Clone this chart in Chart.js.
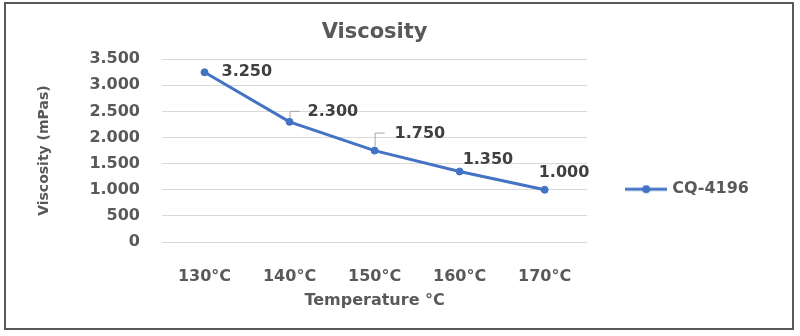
<!DOCTYPE html>
<html>
<head>
<meta charset="utf-8">
<script src="https://cdn.jsdelivr.net/npm/chart.js@4/dist/chart.umd.min.js"></script>
<style>
  body { margin: 0; background: #fff; }
  #wrap { position: relative; width: 800px; height: 336px; }
  #frame { position: absolute; left: 4px; top: 2px; width: 786px; height: 324px; border: 2px solid #595959; }
  #myChart { position: absolute; left: 0; top: 0; }
</style>
</head>
<body>
<div id="wrap">
  <div id="frame"></div>
  <canvas id="myChart" width="800" height="336"></canvas>
</div>
<script>
// dati del grafico
var temperatures = ["130°C", "140°C", "150°C", "160°C", "170°C"];
var viscosity = [3250, 2300, 1750, 1350, 1000];
var seriesName = "CQ-4196";
var yTicks = [0, 500, 1000, 1500, 2000, 2500, 3000, 3500];

var blue = "#4472C4";
var grey = "#595959";
var font = "'DejaVu Sans', sans-serif";

// numero con il punto come separatore delle migliaia
function fmt(v) {
  return String(v).replace(/\B(?=(\d{3})+(?!\d))/g, ".");
}

// simbolo della legenda: linea con punto
function legendSymbol() {
  var c = document.createElement("canvas");
  c.width = 42;
  c.height = 12;
  var g = c.getContext("2d");
  g.strokeStyle = blue;
  g.lineWidth = 3;
  g.beginPath();
  g.moveTo(0, 6);
  g.lineTo(42, 6);
  g.stroke();
  g.fillStyle = blue;
  g.beginPath();
  g.arc(21, 6, 4, 0, Math.PI * 2);
  g.fill();
  return c;
}

// etichette dei valori vicino ai punti
var labelPlugin = {
  id: "valueLabels",
  afterDatasetsDraw: function(chart, args, opts) {
    var ctx = chart.ctx;
    var meta = chart.getDatasetMeta(0);
    var data = chart.data.datasets[0].data;
    ctx.save();
    ctx.font = "bold 16px " + font;
    ctx.fillStyle = "#404040";
    ctx.textAlign = "left";
    ctx.textBaseline = "middle";
    for (var i = 0; i < meta.data.length; i++) {
      var p = meta.data[i];
      var o = opts.offsets[i];
      if (o.leader) {
        ctx.strokeStyle = "#a6a6a6";
        ctx.lineWidth = 1;
        ctx.beginPath();
        ctx.moveTo(p.x + 0.5, p.y - 4);
        ctx.lineTo(p.x + 0.5, p.y + o.dy - 0.5);
        ctx.lineTo(p.x + 10, p.y + o.dy - 0.5);
        ctx.stroke();
      }
      ctx.fillText(fmt(data[i]), p.x + o.dx, p.y + o.dy);
    }
    ctx.restore();
  }
};

var ctx = document.getElementById("myChart").getContext("2d");
var myChart = new Chart(ctx, {
  type: "line",
  data: {
    labels: temperatures,
    datasets: [{
      label: seriesName,
      data: viscosity,
      borderColor: blue,
      backgroundColor: blue,
      borderWidth: 3,
      pointRadius: 3.5,
      pointBorderWidth: 1,
      pointBackgroundColor: blue,
      pointBorderColor: blue,
      tension: 0
    }]
  },
  plugins: [labelPlugin],
  options: {
    responsive: false,
    animation: false,
    layout: { padding: { left: 30, top: 20, right: 41, bottom: 24 } },
    plugins: {
      title: {
        display: true,
        text: "Viscosity",
        color: grey,
        fullSize: false,
        font: { family: font, size: 21, weight: "bold" },
        padding: { top: 0, bottom: 14 }
      },
      legend: {
        position: "right",
        title: { display: true, text: "", padding: { top: 16, bottom: 16 } },
        labels: {
          usePointStyle: true,
          pointStyle: legendSymbol(),
          pointStyleWidth: 36,
          boxHeight: 12,
          padding: 41,
          color: grey,
          font: { family: font, size: 16, weight: "bold" }
        }
      },
      tooltip: { enabled: false },
      valueLabels: {
        offsets: [
          { dx: 17, dy: 0 },
          { dx: 18, dy: -10, leader: true },
          { dx: 20, dy: -17, leader: true },
          { dx: 3, dy: -12 },
          { dx: -6, dy: -17 }
        ]
      }
    },
    scales: {
      x: {
        offset: true,
        grid: { display: false },
        border: { display: false },
        ticks: {
          color: grey,
          padding: 17,
          font: { family: font, size: 16, weight: "bold" }
        },
        title: {
          display: true,
          text: "Temperature °C",
          color: grey,
          padding: { top: 0, bottom: 2 },
          font: { family: font, size: 16, weight: "bold" }
        },
        afterFit: function(scale) { scale.height = 70; }
      },
      y: {
        min: yTicks[0],
        max: yTicks[yTicks.length - 1],
        grid: { color: "#d9d9d9", drawTicks: false },
        border: { display: false },
        afterBuildTicks: function(scale) {
          scale.ticks = yTicks.map(function(v) { return { value: v }; });
        },
        ticks: {
          color: grey,
          padding: 22,
          font: { family: font, size: 16, weight: "bold" },
          callback: function(v) { return fmt(v); }
        },
        title: {
          display: true,
          text: "Viscosity (mPas)",
          color: grey,
          padding: { top: 6, bottom: 0 },
          font: { family: font, size: 14, weight: "bold" }
        },
        afterFit: function(scale) { scale.width = 132; }
      }
    }
  }
});
</script>
</body>
</html>
